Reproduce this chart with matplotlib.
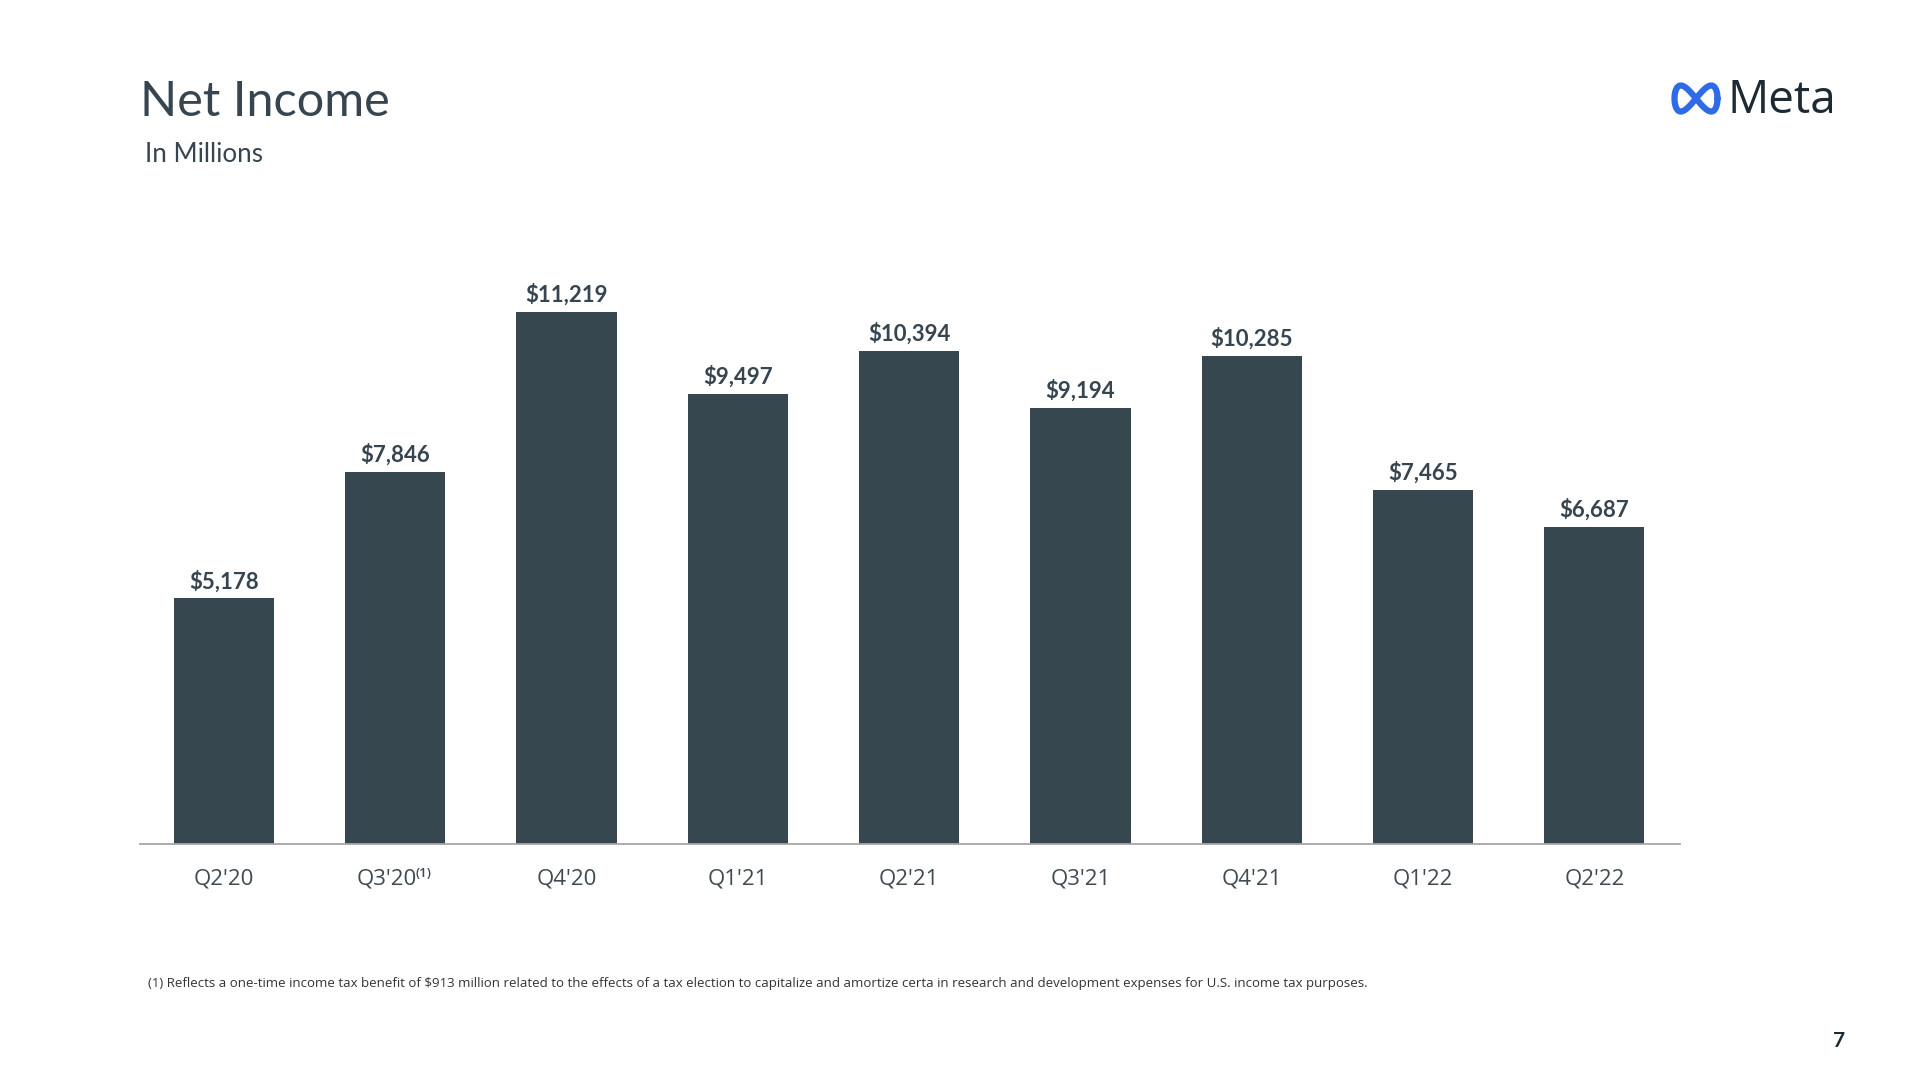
import numpy as np
import matplotlib
matplotlib.use("Agg")
import matplotlib.pyplot as plt
from matplotlib import transforms

# ---- data ----
quarters = ["Q2'20", "Q3'20", "Q4'20", "Q1'21", "Q2'21", "Q3'21", "Q4'21", "Q1'22", "Q2'22"]
net_income = [5178, 7846, 11219, 9497, 10394, 9194, 10285, 7465, 6687]
footnote_marks = {1: "(1)"}
title = "Net Income"
subtitle = "In Millions"
footnote = ("(1) Reflects a one-time income tax benefit of $913 million related to the effects of a tax "
            "election to capitalize and amortize certa in research and development expenses for U.S. income tax purposes.")
page_number = "7"

BAR = "#36474F"
TEXT = "#36454F"
TICK = "#3F4A52"

W, H = 1920, 1080
fig = plt.figure(figsize=(W / 100, H / 100), dpi=100)
fig.patch.set_facecolor("white")

# axes placement in pixels
ax_left, ax_right = 140, 1680
ax_base, ax_top = 844, 275
ax = fig.add_axes([ax_left / W, 1 - ax_base / H, (ax_right - ax_left) / W, (ax_base - ax_top) / H])
x = np.arange(len(quarters))
ax.bar(x, net_income, width=0.585, color=BAR, zorder=2)
ax.set_xlim(-0.49, len(quarters) - 0.5)
ax.set_ylim(0, 12000)
for s in ["top", "right", "left"]:
    ax.spines[s].set_visible(False)
ax.spines["bottom"].set_color("#A6A6A6")
ax.spines["bottom"].set_linewidth(1.3)
ax.set_yticks([])
ax.set_xticks([])

for xi, v in zip(x, net_income):
    ax.annotate(f"${v:,.0f}", (xi, v), xytext=(0, 12.5), textcoords="offset points",
                ha="center", va="center", fontsize=16, fontweight="bold",
                color=TEXT, family="Lato")

trans = transforms.blended_transform_factory(ax.transData, ax.transAxes)
for i, (xi, q) in enumerate(zip(x, quarters)):
    mark = footnote_marks.get(i)
    if mark:
        ax.annotate(q, (xi, 0), xycoords=trans, xytext=(-6, -25.5), textcoords="offset points",
                    ha="center", va="center", fontsize=16, color=TICK, family="Open Sans")
        ax.annotate(mark, (xi, 0), xycoords=trans, xytext=(14.5, -21.5), textcoords="offset points",
                    ha="left", va="center", fontsize=9.5, color=TICK, family="Open Sans",
                    fontweight="semibold")
    else:
        ax.annotate(q, (xi, 0), xycoords=trans, xytext=(0, -25.5), textcoords="offset points",
                    ha="center", va="center", fontsize=16, color=TICK, family="Open Sans")

# titles
fig.text(140 / W, 1 - 102 / H, title, fontsize=35, color=TEXT, family="Lato", va="center", ha="left")
fig.text(145 / W, 1 - 155 / H, subtitle, fontsize=18.7, color=TEXT, family="Lato", va="center", ha="left")

# footnote and page number
fig.text(148 / W, 1 - 984 / H, footnote, fontsize=9.55, color="#333333", family="Open Sans",
         va="center", ha="left")
fig.text(1839 / W, 1 - 1041 / H, page_number, fontsize=15, color="#1C2B33", fontweight="bold",
         family="Lato", va="center", ha="center")

# Meta logo
lax = fig.add_axes([1665 / W, 1 - 120 / H, 60 / W, 42 / H])
lax.set_xlim(0, 60)
lax.set_ylim(0, 42)
lax.axis("off")
t = np.linspace(0, 2 * np.pi, 400)
lx = 31 + 21.5 * np.cos(t)
ly = 21.5 + 26 * np.sin(2 * t) / 2
lax.plot(lx, ly, color="#2F6BE6", lw=4.5, solid_capstyle="round")
fig.text(1727 / W, 1 - 101 / H, "Meta", fontsize=33, color="#1C2B33", family="Open Sans",
         va="center", ha="left")

fig.savefig("out.png", dpi=100, facecolor="white")
